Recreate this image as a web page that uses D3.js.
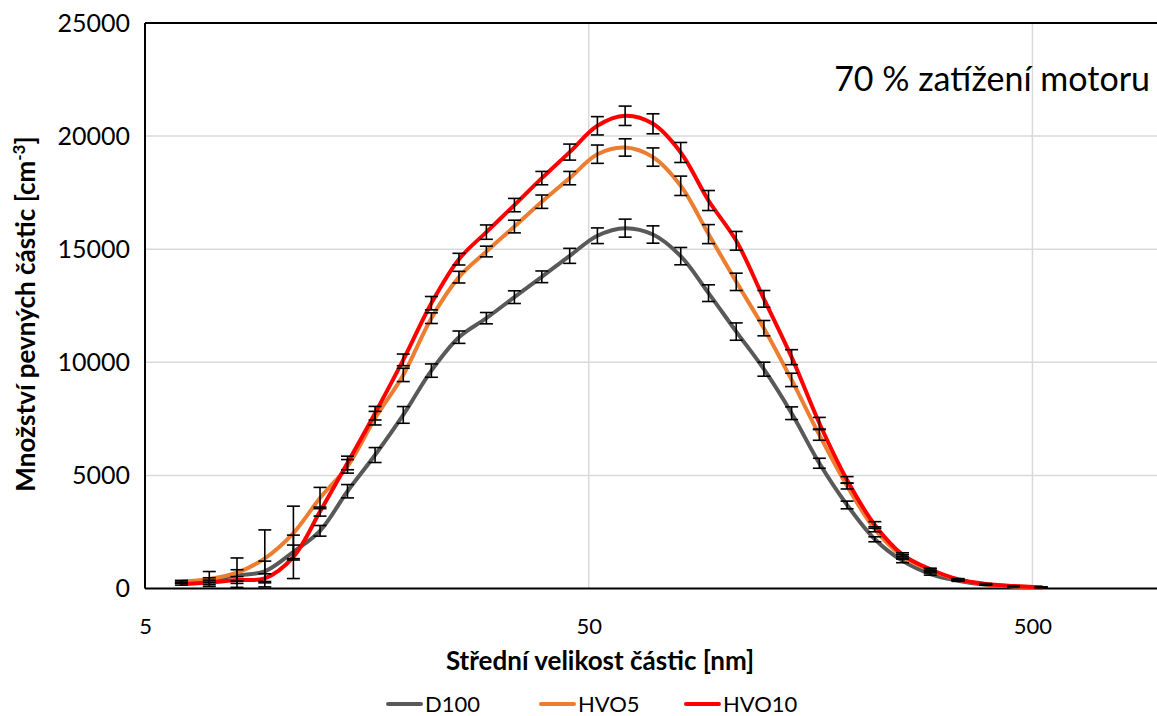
<!DOCTYPE html>
<html>
<head>
<meta charset="utf-8">
<script src="https://cdn.jsdelivr.net/npm/d3@7"></script>
<style>
  html, body { margin: 0; padding: 0; background: #fff; }
  svg { display: block; font-family: Lato, "Open Sans", sans-serif; }
</style>
</head>
<body>
<svg id="chart" width="1157" height="716"></svg>
<script>
// ---- data ----
const sizes = [6.04, 6.98, 8.06, 9.31, 10.8, 12.4, 14.3, 16.5, 19.1, 22.1, 25.5, 29.4, 34.0, 39.2, 45.3, 52.3,
               60.4, 69.8, 80.6, 93.1, 107.5, 124.1, 143.3, 165.5, 191.1, 220.7, 254.8, 294.3, 339.8, 392.4, 453.2, 523.3];
const d100  = [280, 375, 580, 760, 1620, 2550, 4300, 5900, 7674, 9633, 11110, 11951, 12880, 13780, 14706, 15595,
               15931, 15649, 14693, 13057, 11358, 9695, 7749, 5537, 3693, 2176, 1220, 641, 345, 168, 90, 45];
const hvo5  = [300, 420, 700, 1330, 2450, 4000, 5400, 7530, 9443, 11951, 13764, 14897, 16002, 17100, 18143, 19200,
               19497, 19072, 17803, 15667, 13557, 11509, 9222, 6789, 4533, 2618, 1420, 818, 390, 190, 100, 50];
const hvo10 = [200, 270, 375, 450, 1400, 3400, 5550, 7750, 10107, 12614, 14560, 15755, 16950, 18143, 19293, 20456,
               20898, 20544, 19276, 17152, 15371, 12805, 10226, 7306, 4799, 2808, 1500, 849, 407, 199, 110, 53];
const errD100  = [50, 100, 250, 450, 300, 236, 295, 330, 369, 295, 273, 250, 280, 258, 332, 346,
                  398, 383, 383, 369, 383, 310, 280, 221, 170, 110, 80, 50, 30, 20, 10, 5];
const errHVO5  = [60, 330, 650, 1260, 1190, 470, 300, 300, 295, 236, 258, 236, 280, 295, 295, 405,
                  383, 405, 428, 420, 383, 339, 295, 236, 133, 110, 80, 50, 30, 20, 10, 5];
const errHVO10 = [50, 100, 150, 200, 960, 200, 300, 300, 258, 295, 258, 317, 295, 295, 354, 405,
                  428, 442, 442, 442, 413, 369, 332, 258, 147, 147, 80, 50, 30, 20, 10, 5];
const seriesNames = ["D100", "HVO5", "HVO10"];
const seriesColors = ["#595959", "#ED7D31", "#FF0000"];
const xTicks = [5, 50, 500];
const yTicks = [0, 5000, 10000, 15000, 20000, 25000];

const series = [
  { name: seriesNames[0], color: seriesColors[0], values: d100, err: errD100 },
  { name: seriesNames[1], color: seriesColors[1], values: hvo5, err: errHVO5 },
  { name: seriesNames[2], color: seriesColors[2], values: hvo10, err: errHVO10 }
];

// ---- layout ----
const svg = d3.select("#chart");
const W = 1157, H = 716;
const plot = { left: 145, top: 23, bottom: 588.5, right: 1166 };

const x = d3.scaleLog().domain([5, 1000]).range([plot.left, plot.right]);
const y = d3.scaleLinear().domain([0, 25000]).range([plot.bottom, plot.top]);

svg.append("rect").attr("width", W).attr("height", H).attr("fill", "#fff");

// gridlines
const grid = svg.append("g");
grid.selectAll("line.hg").data(yTicks.filter(t => t > 0 && t < 25000)).join("line")
  .attr("x1", plot.left).attr("x2", W)
  .attr("y1", d => y(d)).attr("y2", d => y(d))
  .attr("stroke", "#d9d9d9").attr("stroke-width", 1.5);
grid.selectAll("line.vg").data(xTicks.filter(t => t > 5)).join("line")
  .attr("x1", d => x(d)).attr("x2", d => x(d))
  .attr("y1", plot.top).attr("y2", plot.bottom)
  .attr("stroke", "#d9d9d9").attr("stroke-width", 1.5);

// border lines (left, top, bottom)
svg.append("line").attr("x1", plot.left).attr("x2", plot.left).attr("y1", plot.top).attr("y2", plot.bottom)
  .attr("stroke", "#000").attr("stroke-width", 2);
svg.append("line").attr("x1", plot.left).attr("x2", W).attr("y1", plot.top).attr("y2", plot.top)
  .attr("stroke", "#000").attr("stroke-width", 2);
svg.append("line").attr("x1", plot.left).attr("x2", W).attr("y1", plot.bottom).attr("y2", plot.bottom)
  .attr("stroke", "#000").attr("stroke-width", 2);

// axes labels via d3 axes
const yAxis = d3.axisLeft(y).tickValues(yTicks).tickSize(0).tickPadding(15).tickFormat(d3.format("d"));
const gy = svg.append("g").attr("transform", `translate(${plot.left},0)`).call(yAxis);
gy.select(".domain").remove();
gy.selectAll("text").attr("font-size", 25).attr("fill", "#000").attr("font-family", "Lato");

const xAxis = d3.axisBottom(x).tickValues(xTicks).tickSize(0).tickPadding(30).tickFormat(d3.format("d"));
const gx = svg.append("g").attr("transform", `translate(0,${plot.bottom})`).call(xAxis);
gx.select(".domain").remove();
gx.selectAll("text").attr("font-size", 22).attr("fill", "#000").attr("font-family", "Lato");

// series lines
const line = d3.line()
  .x((d, i) => x(sizes[i]))
  .y(d => y(d))
  .curve(d3.curveCatmullRom.alpha(0.5));

const gLines = svg.append("g");
series.forEach(s => {
  gLines.append("path")
    .datum(s.values)
    .attr("d", line)
    .attr("fill", "none")
    .attr("stroke", s.color)
    .attr("stroke-width", 4)
    .attr("stroke-linejoin", "round")
    .attr("stroke-linecap", "round");
});

// error bars
const gErr = svg.append("g");
const cap = 6.5;
series.forEach(s => {
  s.values.forEach((v, i) => {
    const e = s.err[i];
    const cx = x(sizes[i]);
    const y1 = y(Math.max(0, v - e)), y2 = y(v + e);
    gErr.append("line").attr("x1", cx).attr("x2", cx).attr("y1", y1).attr("y2", y2)
      .attr("stroke", "#000").attr("stroke-width", 1.6);
    [y1, y2].forEach(yy => {
      gErr.append("line").attr("x1", cx - cap).attr("x2", cx + cap).attr("y1", yy).attr("y2", yy)
        .attr("stroke", "#000").attr("stroke-width", 1.6);
    });
  });
});

// annotation
svg.append("text").attr("x", 1150).attr("y", 91).attr("text-anchor", "end")
  .attr("font-size", 34).attr("fill", "#000").text("70 % zatížení motoru");

// axis titles
svg.append("text").attr("x", 600).attr("y", 670).attr("text-anchor", "middle")
  .attr("font-size", 26).attr("font-weight", "bold").attr("fill", "#000")
  .text("Střední velikost částic [nm]");

const yt = svg.append("text").attr("transform", "translate(35,314) rotate(-90)")
  .attr("text-anchor", "middle").attr("font-size", 26).attr("font-weight", "bold").attr("fill", "#000");
yt.append("tspan").text("Množství pevných částic [cm");
yt.append("tspan").attr("font-size", 17).attr("dy", -10).text("-3");
yt.append("tspan").attr("dy", 10).text("]");

// legend
const legendX = [388, 541, 686];
const gLeg = svg.append("g");
series.forEach((s, i) => {
  gLeg.append("line").attr("x1", legendX[i]).attr("x2", legendX[i] + 33)
    .attr("y1", 704).attr("y2", 704).attr("stroke", s.color).attr("stroke-width", 4).attr("stroke-linecap", "round");
  gLeg.append("text").attr("x", legendX[i] + 37).attr("y", 712).attr("font-size", 22).attr("fill", "#000").text(s.name);
});
</script>
</body>
</html>
